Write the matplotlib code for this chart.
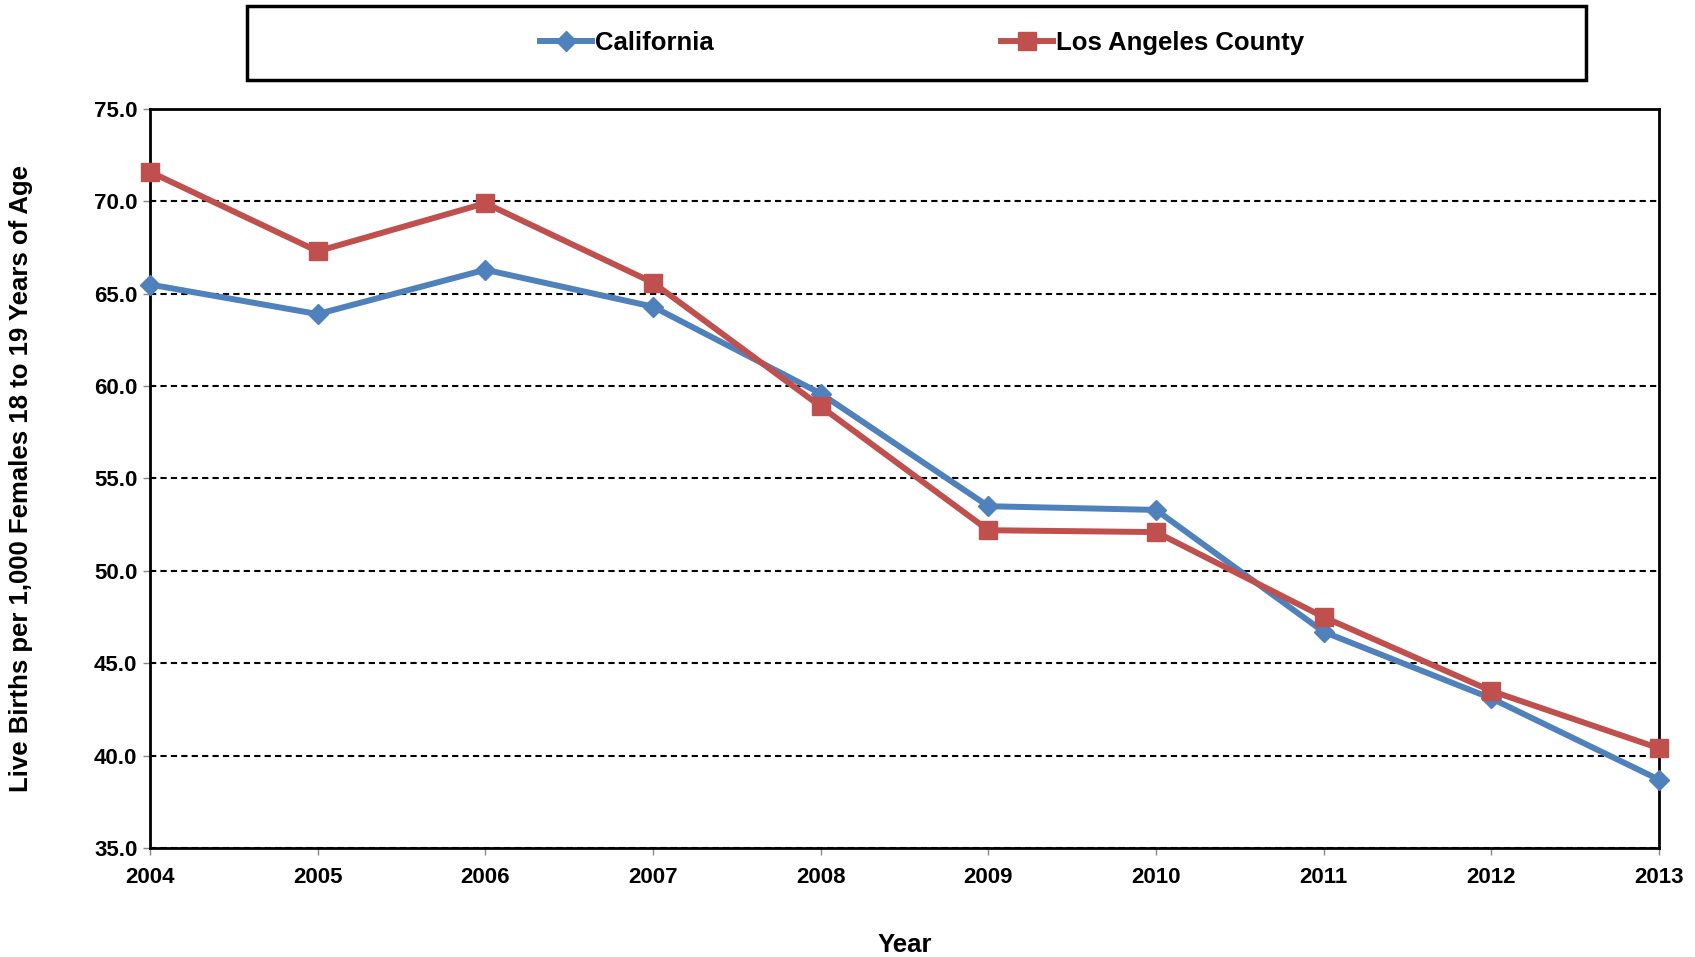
import matplotlib
matplotlib.use("Agg")
import matplotlib.pyplot as plt
from matplotlib.patches import Rectangle

years = [2004, 2005, 2006, 2007, 2008, 2009, 2010, 2011, 2012, 2013]
california = [65.5, 63.9, 66.3, 64.3, 59.6, 53.5, 53.3, 46.7, 43.1, 38.7]
los_angeles = [71.6, 67.3, 69.9, 65.6, 58.9, 52.2, 52.1, 47.5, 43.5, 40.4]
yticks = [35.0, 40.0, 45.0, 50.0, 55.0, 60.0, 65.0, 70.0, 75.0]

plt.rcParams['font.family'] = ['Liberation Sans Narrow', 'Liberation Sans', 'DejaVu Sans']

W, H = 1695, 957
fig = plt.figure(figsize=(W / 100, H / 100), dpi=100)
left, right, top, bottom = 150, 1659, 109, 848
ax = fig.add_axes([left / W, 1 - bottom / H, (right - left) / W, (bottom - top) / H])

blue = '#4F81BD'
red = '#C0504D'
ax.plot(years, california, color=blue, lw=4.3, marker='D', markersize=10.5,
        label='California', zorder=3, clip_on=False)
ax.plot(years, los_angeles, color=red, lw=4.3, marker='s', markersize=12.5,
        label='Los Angeles County', zorder=4, clip_on=False)

ax.set_xlim(years[0], years[-1])
ax.set_ylim(35, 75)
ax.set_yticks(yticks)
ax.set_yticklabels([f"{v:.1f}" for v in yticks])
ax.set_xticks(years)
ax.set_xticklabels([str(y) for y in years])
for lab in ax.get_xticklabels() + ax.get_yticklabels():
    lab.set_fontweight('bold')
    lab.set_fontsize(16)
ax.tick_params(axis='both', length=5, width=1, color='#888888')
ax.tick_params(axis='x', pad=9)
ax.tick_params(axis='y', pad=4)

ax.yaxis.grid(True, color='black', linestyle=(0, (3, 2)), linewidth=1.5)
ax.set_axisbelow(True)
for s in ax.spines.values():
    s.set_linewidth(2)
    s.set_color('black')

ax.set_xlabel('Year', fontsize=18.5, fontweight='bold', labelpad=32,
              family=['Liberation Sans', 'DejaVu Sans'])
ax.set_ylabel('Live Births per 1,000 Females 18 to 19 Years of Age', fontsize=18.5,
              fontweight='bold', labelpad=44, family=['Liberation Sans', 'DejaVu Sans'])

# legend box
fig.patches.append(Rectangle((247 / W, 1 - 80 / H), (1586 - 247) / W, 74 / H,
                             transform=fig.transFigure, fill=False,
                             edgecolor='black', linewidth=2.5))
leg = fig.legend(loc='center', bbox_to_anchor=(922 / W, 1 - 43 / H), ncol=2,
                 frameon=False, handlelength=2.0, handletextpad=0.12,
                 columnspacing=11.2, prop={'weight': 'bold', 'size': 18.5})

fig.savefig('out.png', dpi=100)
